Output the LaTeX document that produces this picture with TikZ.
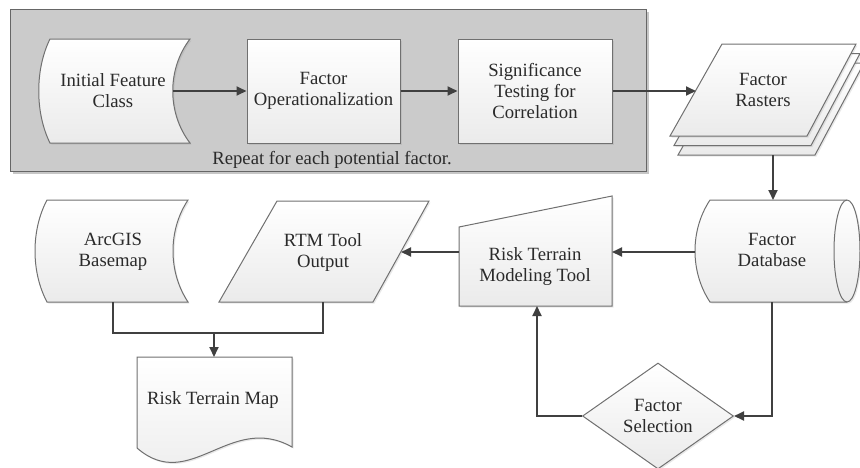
\documentclass[tikz,border=0pt]{standalone}
\usepackage{fontspec}
\setmainfont{Liberation Serif}
\usetikzlibrary{arrows.meta,shadows,shapes.geometric}
\definecolor{edgecol}{HTML}{707070}
\definecolor{conncol}{HTML}{404040}
\definecolor{boxgray}{HTML}{CBCBCB}
\definecolor{txtcol}{HTML}{2A2A2A}
\tikzset{
  shapebox/.style={draw=edgecol, line width=1pt, top color=white, bottom color=black!8,
    drop shadow={shadow xshift=1.5pt, shadow yshift=-1.5pt, opacity=0.18}},
  lbl/.style={align=center, font=\fontsize{18.7}{21}\selectfont, text=txtcol, inner sep=0pt},
  connline/.style={draw=conncol, line width=1.8pt},
  arr/.style={connline, -{Triangle[length=10pt,width=9pt]}},
}
\begin{document}
\begin{tikzpicture}[x=1pt,y=-1pt]
\useasboundingbox (0,0) rectangle (860,467);

% group box
\node[draw=black!60, line width=1pt, fill=boxgray, minimum width=636pt, minimum height=162pt, inner sep=0pt,
  drop shadow={shadow xshift=2.5pt, shadow yshift=-2.5pt, opacity=0.45}] (grp) at (328,90) {};
\node[lbl, anchor=base] (rep) at (332,164) {Repeat for each potential factor.};

% Initial Feature Class (stored data)
\path[shapebox] (50,39) -- (190,39) .. controls (167,69) and (167,113) .. (190,143)
  -- (50,143) .. controls (35,113) and (35,69) .. (50,39) -- cycle;
\node[lbl] (ifc) at (113,91) {Initial Feature\\Class};
\coordinate (ifc-e) at (173,91);

% Factor Operationalization
\node[shapebox, lbl, minimum width=153pt, minimum height=104pt] (fo) at (323.5,91) {Factor\\Operationalization};

% Significance Testing
\node[shapebox, lbl, minimum width=154pt, minimum height=104pt] (sig) at (535,91) {Significance\\Testing for\\Correlation};

% Factor Rasters (stack)
\path[shapebox] (730,63) -- (864,63) -- (815,155) -- (678,155) -- cycle;
\path[shapebox] (726,53.5) -- (860,53.5) -- (811,145.5) -- (674,145.5) -- cycle;
\path[shapebox] (722,44) -- (856,44) -- (807,136) -- (670,136) -- cycle;
\node[lbl] (fr) at (763,90) {Factor\\Rasters};
\coordinate (fr-w) at (696,91);
\coordinate (fr-s) at (773,155);

% Factor Database (horizontal cylinder)
\path[shapebox] (710,200) -- (847,200) arc[start angle=-90, end angle=90, x radius=13, y radius=51]
  -- (710,302) .. controls (690,272) and (690,230) .. (710,200) -- cycle;
\draw[edgecol, line width=1pt] (847,200) arc[start angle=-90, end angle=-270, x radius=13, y radius=51];
\node[lbl] (db) at (772,250) {Factor\\Database};
\coordinate (db-n) at (773,200);
\coordinate (db-s) at (772,302);
\coordinate (db-w) at (695,252);

% Risk Terrain Modeling Tool (manual input)
\path[shapebox] (459,227) -- (612,196) -- (612,306) -- (459,306) -- cycle;
\node[lbl] (rtmt) at (535,267) {Risk Terrain\\Modeling Tool};
\coordinate (rtmt-e) at (612,252);
\coordinate (rtmt-w) at (459,252);
\coordinate (rtmt-s) at (537,306);

% RTM Tool Output (parallelogram)
\path[shapebox] (277,201) -- (429,201) -- (373,302) -- (219,302) -- cycle;
\node[lbl] (rto) at (323,252) {RTM Tool\\Output};
\coordinate (rto-e) at (401,252);
\coordinate (rto-s) at (323,302);

% ArcGIS Basemap (stored data)
\path[shapebox] (47,200) -- (188,200) .. controls (168,230) and (168,272) .. (188,302)
  -- (47,302) .. controls (31,272) and (31,230) .. (47,200) -- cycle;
\node[lbl] (ag) at (113,252) {ArcGIS\\Basemap};
\coordinate (ag-s) at (113,302);

% Risk Terrain Map (document)
\path[shapebox] (137,357) -- (292,357) -- (292,447) .. controls (230,412) and (190,494) .. (137,448) -- cycle;
\node[lbl] (rtm) at (213,400) {Risk Terrain Map};
\coordinate (rtm-n) at (214,357);
\coordinate (join) at (214,333);

% Factor Selection (decision)
\node[shapebox, lbl, diamond, aspect=1.42, minimum width=151pt, minimum height=106pt] (fs) at (658,416) {Factor\\Selection};

% connectors
\draw[arr] (ifc-e) -- (fo.west);
\draw[arr] (fo.east) -- (sig.west);
\draw[arr] (sig.east) -- (fr-w);
\draw[arr] (fr-s) -- (db-n);
\draw[arr] (db-w) -- (rtmt-e);
\draw[arr] (rtmt-w) -- (rto-e);
\draw[connline] (ag-s) |- (join) -| (rto-s);
\draw[arr] (join) -- (rtm-n);
\draw[arr] (db-s) |- (fs.east);
\draw[arr] (fs.west) -| (rtmt-s);
\end{tikzpicture}
\end{document}
